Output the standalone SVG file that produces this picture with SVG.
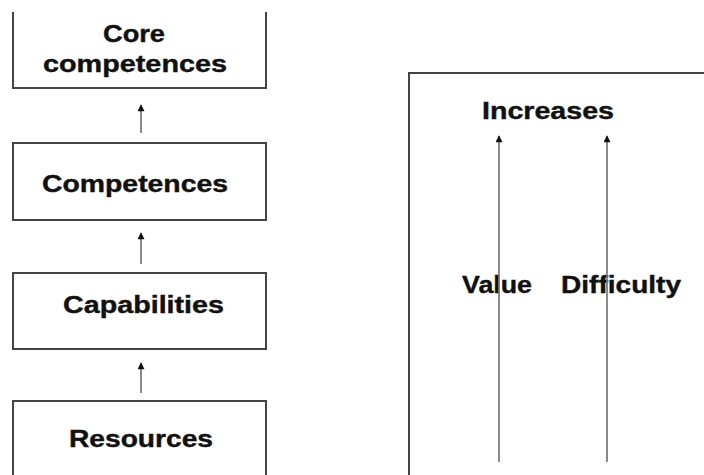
<svg xmlns="http://www.w3.org/2000/svg" width="704" height="475" viewBox="0 0 704 475">
<style>
.box{fill:#fff;stroke:#444;stroke-width:2}
.lbl{font-family:"Liberation Sans",Arial,sans-serif;font-weight:bold;font-size:23.5px;fill:#111;stroke:#111;stroke-width:0.4}
.conn{stroke:#777;stroke-width:1.7;fill:none;marker-end:url(#ah)}
</style>
<defs>
<marker id="ah" viewBox="0 0 10 10" refX="9" refY="5" markerWidth="8" markerHeight="7" orient="auto" markerUnits="userSpaceOnUse">
<path d="M0,0 L10,5 L0,10 Z" fill="#111"/>
</marker>
</defs>
<rect width="704" height="475" fill="#fff"/>
<g id="core">
<path class="box" d="M13,12 V88 H266 V12"/>
<text class="lbl" x="103" y="42" textLength="62" lengthAdjust="spacingAndGlyphs">Core</text>
<text class="lbl" x="43" y="72" textLength="184" lengthAdjust="spacingAndGlyphs">competences</text>
</g>
<g id="competences">
<rect class="box" x="13" y="143" width="253" height="77"/>
<text class="lbl" x="42" y="192" textLength="186" lengthAdjust="spacingAndGlyphs">Competences</text>
</g>
<g id="capabilities">
<rect class="box" x="13" y="273" width="253" height="76"/>
<text class="lbl" x="63" y="313" textLength="161" lengthAdjust="spacingAndGlyphs">Capabilities</text>
</g>
<g id="resources">
<path class="box" d="M13,478 V401 H266 V478"/>
<text class="lbl" x="69" y="447" textLength="144" lengthAdjust="spacingAndGlyphs">Resources</text>
</g>
<g id="increases-panel">
<path class="box" d="M706,73 H409 V478"/>
<text class="lbl" x="482" y="119" textLength="132" lengthAdjust="spacingAndGlyphs">Increases</text>
<text class="lbl" x="462" y="293" textLength="70" lengthAdjust="spacingAndGlyphs">Value</text>
<text class="lbl" x="561" y="293" textLength="120" lengthAdjust="spacingAndGlyphs">Difficulty</text>
</g>
<g id="connectors">
<line class="conn" x1="141" y1="133" x2="141" y2="105"/>
<line class="conn" x1="141" y1="264" x2="141" y2="233"/>
<line class="conn" x1="141" y1="393" x2="141" y2="363"/>
<line class="conn" x1="499" y1="462" x2="499" y2="136"/>
<line class="conn" x1="607" y1="462" x2="607" y2="136"/>
</g>
</svg>
